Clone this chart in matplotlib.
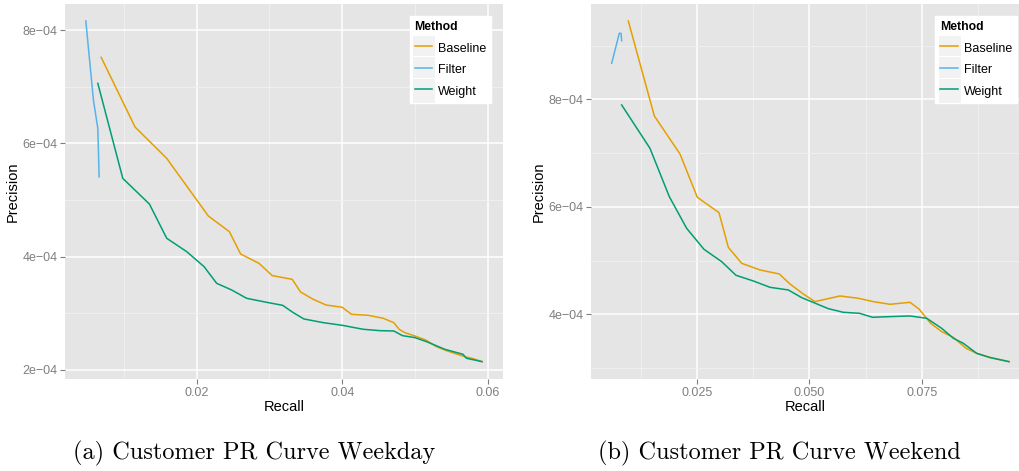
import matplotlib
matplotlib.use('Agg')
import matplotlib.pyplot as plt
from matplotlib.legend_handler import HandlerLine2D
from matplotlib.patches import Rectangle
from matplotlib.ticker import FixedLocator, FuncFormatter

# Weekday curves
wd_filter_recall = [0.00476, 0.00581, 0.00641, 0.00659]
wd_filter_prec = [8.16e-4, 6.76e-4, 6.265e-4, 5.41e-4]

wd_base_recall = [0.00687, 0.01153, 0.01588, 0.0216, 0.02449, 0.02604, 0.02856, 0.03039,
                  0.03313, 0.03428, 0.03593, 0.03776, 0.0400, 0.04128, 0.04357, 0.04563,
                  0.04709, 0.04783, 0.0486, 0.04998, 0.05149, 0.05295, 0.05432, 0.0557,
                  0.05684, 0.05799, 0.05922]
wd_base_prec = [7.518e-4, 6.288e-4, 5.735e-4, 4.718e-4, 4.441e-4, 4.047e-4, 3.882e-4, 3.665e-4,
                3.60e-4, 3.376e-4, 3.253e-4, 3.147e-4, 3.106e-4, 2.982e-4, 2.965e-4, 2.912e-4,
                2.835e-4, 2.718e-4, 2.659e-4, 2.60e-4, 2.529e-4, 2.412e-4, 2.341e-4, 2.282e-4,
                2.235e-4, 2.20e-4, 2.147e-4]

wd_weight_recall = [0.00641, 0.00984, 0.0135, 0.01588, 0.01863, 0.02101, 0.02275, 0.0248,
                    0.02686, 0.02961, 0.03181, 0.03327, 0.03474, 0.03739, 0.0400, 0.04288,
                    0.04517, 0.04709, 0.04828, 0.04998, 0.05158, 0.0541, 0.05661, 0.05707,
                    0.05922]
wd_weight_prec = [7.059e-4, 5.382e-4, 4.929e-4, 4.324e-4, 4.088e-4, 3.824e-4, 3.529e-4, 3.412e-4,
                  3.265e-4, 3.194e-4, 3.141e-4, 3.012e-4, 2.90e-4, 2.835e-4, 2.788e-4, 2.718e-4,
                  2.694e-4, 2.688e-4, 2.606e-4, 2.571e-4, 2.50e-4, 2.365e-4, 2.276e-4, 2.206e-4,
                  2.147e-4]

# Weekend curves
we_filter_recall = [0.00591, 0.00762, 0.00799, 0.00814]
we_filter_prec = [8.67e-4, 9.228e-4, 9.228e-4, 9.091e-4]

we_base_recall = [0.00962, 0.01542, 0.02114, 0.0250, 0.02983, 0.03191, 0.03488, 0.03897,
                  0.04328, 0.04565, 0.04862, 0.05122, 0.0568, 0.06088, 0.06423, 0.06794,
                  0.0724, 0.07448, 0.0770, 0.07946, 0.08206, 0.08488, 0.08726, 0.09023,
                  0.09447]
we_base_prec = [9.457e-4, 7.69e-4, 6.983e-4, 6.177e-4, 5.891e-4, 5.247e-4, 4.949e-4, 4.825e-4,
                4.75e-4, 4.564e-4, 4.378e-4, 4.236e-4, 4.341e-4, 4.298e-4, 4.236e-4, 4.186e-4,
                4.223e-4, 4.093e-4, 3.833e-4, 3.678e-4, 3.572e-4, 3.367e-4, 3.274e-4, 3.20e-4,
                3.119e-4]

we_weight_recall = [0.00814, 0.01445, 0.01876, 0.02262, 0.02649, 0.03042, 0.03362, 0.03748,
                    0.0412, 0.04528, 0.04826, 0.0542, 0.05754, 0.06111, 0.06408, 0.06794,
                    0.0724, 0.07612, 0.07946, 0.08206, 0.08429, 0.08726, 0.09023, 0.09447]
we_weight_prec = [7.895e-4, 7.088e-4, 6.189e-4, 5.60e-4, 5.209e-4, 4.98e-4, 4.726e-4, 4.62e-4,
                  4.502e-4, 4.453e-4, 4.31e-4, 4.105e-4, 4.037e-4, 4.019e-4, 3.944e-4, 3.957e-4,
                  3.969e-4, 3.926e-4, 3.74e-4, 3.554e-4, 3.46e-4, 3.274e-4, 3.194e-4, 3.119e-4]

methods = ['Baseline', 'Filter', 'Weight']
colors = {'Baseline': '#E69F00', 'Filter': '#56B4E9', 'Weight': '#009E73'}
captions = ['(a) Customer PR Curve Weekday', '(b) Customer PR Curve Weekend']

plt.rcParams['font.family'] = ['Liberation Sans', 'DejaVu Sans']


class KeyHandler(HandlerLine2D):
    # legend key with a light grey box behind the line, like ggplot2
    def create_artists(self, legend, orig_handle, xdescent, ydescent, width, height, fontsize, trans):
        artists = super().create_artists(legend, orig_handle, xdescent, ydescent,
                                         width, height, fontsize, trans)
        pad = 2
        box = Rectangle((-xdescent - pad, -ydescent - 4), width + 2 * pad, height + 8,
                        facecolor='#F2F2F2', edgecolor='white', lw=0.8, transform=trans)
        return [box] + artists


def sci(v, pos):
    return f'{v:.0e}'.replace('-', '\u2212')


def style_axes(ax, xlim, ylim, xmaj, xmin, ymaj, ymin, xfmt):
    ax.set_facecolor('#E5E5E5')
    for s in ax.spines.values():
        s.set_visible(False)
    ax.set_xlim(*xlim)
    ax.set_ylim(*ylim)
    ax.xaxis.set_major_locator(FixedLocator(xmaj))
    ax.xaxis.set_minor_locator(FixedLocator(xmin))
    ax.yaxis.set_major_locator(FixedLocator(ymaj))
    ax.yaxis.set_minor_locator(FixedLocator(ymin))
    ax.xaxis.set_major_formatter(FuncFormatter(xfmt))
    ax.yaxis.set_major_formatter(FuncFormatter(sci))
    ax.grid(which='major', color='white', lw=1.1)
    ax.grid(which='minor', color='#F2F2F2', lw=0.6)
    ax.set_axisbelow(True)
    ax.tick_params(which='major', length=3.5, width=0.8, color='#7F7F7F',
                   labelcolor='#7F7F7F', labelsize=9, pad=2)
    ax.tick_params(which='minor', length=0)
    ax.set_xlabel('Recall', fontsize=10.5, labelpad=1)
    ax.set_ylabel('Precision', fontsize=10.5, labelpad=2)


fig = plt.figure(figsize=(10.19, 4.71), dpi=100)
ax1 = fig.add_axes([0.0638, 0.1953, 0.4298, 0.7962])
ax2 = fig.add_axes([0.58, 0.1953, 0.42, 0.7962])

panels = [
    (ax1, {'Baseline': (wd_base_recall, wd_base_prec),
           'Filter': (wd_filter_recall, wd_filter_prec),
           'Weight': (wd_weight_recall, wd_weight_prec)}),
    (ax2, {'Baseline': (we_base_recall, we_base_prec),
           'Filter': (we_filter_recall, we_filter_prec),
           'Weight': (we_weight_recall, we_weight_prec)}),
]

for ax, series in panels:
    for m in methods:
        r, p = series[m]
        ax.plot(r, p, color=colors[m], lw=1.1, label=m)

style_axes(ax1, (0.0019, 0.0621), (1.84e-4, 8.46e-4),
           [0.02, 0.04, 0.06], [0.01, 0.03, 0.05],
           [2e-4, 4e-4, 6e-4, 8e-4], [3e-4, 5e-4, 7e-4],
           lambda v, pos: f'{v:.2f}')
style_axes(ax2, (0.00131, 0.0967), (2.796e-4, 9.773e-4),
           [0.025, 0.05, 0.075], [0.0125, 0.0375, 0.0625, 0.0875],
           [4e-4, 6e-4, 8e-4], [3e-4, 5e-4, 7e-4, 9e-4],
           lambda v, pos: f'{v:.3f}')

for ax, anchor in [(ax1, (0.9726, 0.968)), (ax2, (0.995, 0.968))]:
    leg = ax.legend(loc='upper right', bbox_to_anchor=anchor, title='Method',
                    fontsize=9, title_fontproperties={'weight': 'bold', 'size': 8.8},
                    frameon=True, fancybox=False, edgecolor='white', framealpha=1,
                    handlelength=1.4, handleheight=1.3, labelspacing=0.6,
                    handletextpad=0.45, borderpad=0.4, borderaxespad=0,
                    handler_map={plt.Line2D: KeyHandler()})
    leg._legend_box.align = 'left'

for txt, xc in zip(captions, [0.249, 0.765]):
    fig.text(xc, 1 - 453 / 471, txt, ha='center', va='center',
             fontsize=17.5, family='cmr10')

fig.savefig('out.png', dpi=100)
